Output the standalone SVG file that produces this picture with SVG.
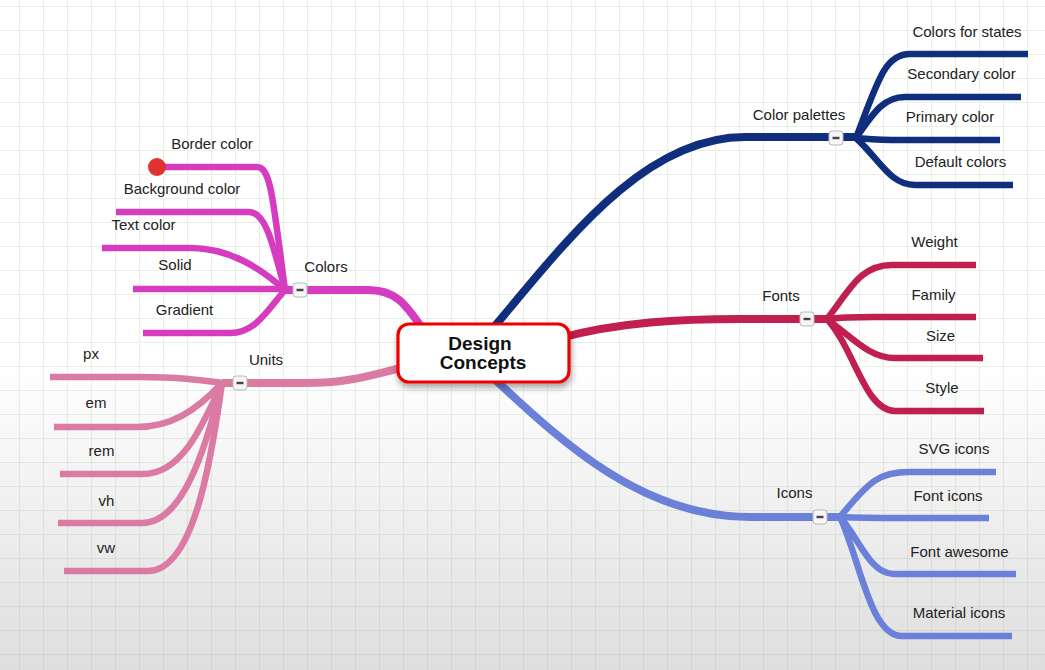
<svg xmlns="http://www.w3.org/2000/svg" width="1045" height="670" viewBox="0 0 1045 670">
<defs>
<linearGradient id="bg" x1="0" y1="0" x2="0" y2="1">
<stop offset="0" stop-color="#ffffff"/>
<stop offset="0.55" stop-color="#ffffff"/>
<stop offset="1" stop-color="#dedede"/>
</linearGradient>
<pattern id="grid" patternUnits="userSpaceOnUse" x="19" y="6" width="24" height="24">
<path d="M0.5 0V24M0 0.5H24" stroke="rgb(140,180,130)" stroke-opacity="0.2" stroke-width="1.2" fill="none"/>
</pattern>
<filter id="sh" x="-20%" y="-30%" width="140%" height="170%">
<feDropShadow dx="1" dy="4" stdDeviation="3" flood-color="#000" flood-opacity="0.35"/>
</filter>
<g id="tog">
<rect x="-7" y="-7" width="14" height="14" rx="3" fill="#f6f6f6" stroke="#b8b8b8" stroke-width="1"/>
<rect x="-3.5" y="-1.2" width="7" height="2.4" fill="#444"/>
</g>
</defs>
<style>
.t{font-family:"Liberation Sans",Arial,sans-serif;font-size:15px;fill:#222;text-anchor:middle}
.c{font-family:"Liberation Sans",Arial,sans-serif;font-size:19px;font-weight:bold;fill:#111;text-anchor:middle}
.tr{fill:none;stroke-width:8;stroke-linecap:butt}
.ch{fill:none;stroke-width:6.5;stroke-linecap:butt}
.mg{stroke:#d63cbf}
.pk{stroke:#db7ba3}
.nv{stroke:#0f2e7e}
.cr{stroke:#c01f50}
.pw{stroke:#6b80d8}
</style>
<rect width="1045" height="670" fill="url(#bg)"/>
<rect width="1045" height="670" fill="url(#grid)"/>
<g id="connectors">
<path class="tr mg" d="M285 290H368C395 290 405 303 422 328"/>
<path class="ch mg" d="M157 167H257C271 167 273 200 285 290"/>
<path class="ch mg" d="M116 212H249C265 212 272 240 285 290"/>
<path class="ch mg" d="M102 248H190C230 248 260 268 285 290"/>
<path class="ch mg" d="M133 289H285"/>
<path class="ch mg" d="M143 333H230C255 333 266 312 285 290"/>
<path class="tr pk" d="M222 383H306C350 383 370 375 405 367"/>
<path class="ch pk" d="M50 377H140C180 377 200 380 222 383"/>
<path class="ch pk" d="M54 427H137C170 427 195 412 222 383"/>
<path class="ch pk" d="M60 474H143C180 474 200 432 222 383"/>
<path class="ch pk" d="M58 523H142C182 523 205 452 222 383"/>
<path class="ch pk" d="M64 571H148C192 571 210 470 222 383"/>
<path class="tr nv" d="M488 334C560 250 640 137 745 137H857"/>
<path class="ch nv" d="M856 138C878 80 885 54 910 54H1028"/>
<path class="ch nv" d="M856 138C875 110 885 97 905 97H1021"/>
<path class="ch nv" d="M856 138C870 139 880 140 900 140H1000"/>
<path class="ch nv" d="M856 138C880 160 890 185 915 185H1013"/>
<path class="tr cr" d="M560 338C620 322 680 319 740 319H827"/>
<path class="ch cr" d="M827 319C850 290 860 265 892 265H976"/>
<path class="ch cr" d="M827 319C850 316 870 317 900 317H976"/>
<path class="ch cr" d="M827 319C855 340 870 358 895 358H983"/>
<path class="ch cr" d="M827 319C855 350 865 411 895 411H984"/>
<path class="tr pw" d="M490 375C560 440 640 517 750 517H840"/>
<path class="ch pw" d="M840 517C870 480 880 472 909 472H996"/>
<path class="ch pw" d="M840 517C860 518 880 518 900 518H989"/>
<path class="ch pw" d="M840 517C860 540 870 574 894 574H1016"/>
<path class="ch pw" d="M840 517C860 560 870 636 902 636H1012"/>
</g>
<g id="center">
<rect x="398" y="324" width="171" height="58" rx="11" fill="#fff" stroke="#ee0000" stroke-width="3.2" filter="url(#sh)"/>
<text class="c" x="480" y="350">Design</text>
<text class="c" x="483" y="369">Concepts</text>
</g>
<g id="colors"><use href="#tog" x="300" y="290"/><text class="t" x="326" y="272">Colors</text></g>
<g id="border-color"><circle cx="157" cy="167" r="9" fill="#e03232"/><text class="t" x="212" y="149">Border color</text></g>
<g id="background-color"><text class="t" x="182" y="194">Background color</text></g>
<g id="text-color"><text class="t" x="143.5" y="230">Text color</text></g>
<g id="solid"><text class="t" x="175" y="270">Solid</text></g>
<g id="gradient"><text class="t" x="184.5" y="315">Gradient</text></g>
<g id="units"><use href="#tog" x="240" y="383"/><text class="t" x="266" y="365">Units</text></g>
<g id="px"><text class="t" x="91" y="359">px</text></g>
<g id="em"><text class="t" x="96" y="408">em</text></g>
<g id="rem"><text class="t" x="101.5" y="456">rem</text></g>
<g id="vh"><text class="t" x="106.5" y="506">vh</text></g>
<g id="vw"><text class="t" x="106" y="553">vw</text></g>
<g id="color-palettes"><use href="#tog" x="836" y="138"/><text class="t" x="799" y="120">Color palettes</text></g>
<g id="colors-for-states"><text class="t" x="967" y="37">Colors for states</text></g>
<g id="secondary-color"><text class="t" x="961.5" y="79">Secondary color</text></g>
<g id="primary-color"><text class="t" x="950" y="122">Primary color</text></g>
<g id="default-colors"><text class="t" x="960.5" y="167">Default colors</text></g>
<g id="fonts"><use href="#tog" x="807" y="319"/><text class="t" x="781" y="301">Fonts</text></g>
<g id="weight"><text class="t" x="934.5" y="247">Weight</text></g>
<g id="family"><text class="t" x="933.5" y="300">Family</text></g>
<g id="size"><text class="t" x="940.5" y="341">Size</text></g>
<g id="style"><text class="t" x="942" y="393">Style</text></g>
<g id="icons"><use href="#tog" x="820" y="517"/><text class="t" x="794.5" y="498">Icons</text></g>
<g id="svg-icons"><text class="t" x="954" y="454">SVG icons</text></g>
<g id="font-icons"><text class="t" x="948" y="501">Font icons</text></g>
<g id="font-awesome"><text class="t" x="959.5" y="557">Font awesome</text></g>
<g id="material-icons"><text class="t" x="959" y="618">Material icons</text></g>
</svg>
